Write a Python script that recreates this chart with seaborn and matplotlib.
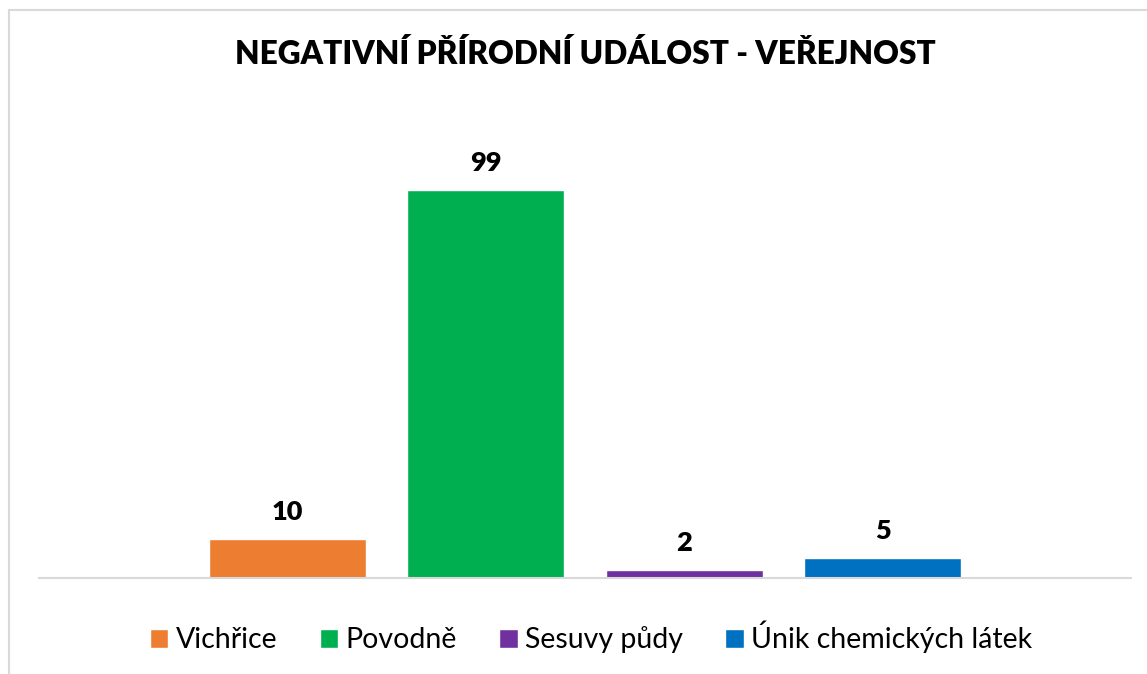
import matplotlib
matplotlib.use("Agg")
import matplotlib.pyplot as plt
import seaborn as sns
import pandas as pd
from matplotlib.patches import Rectangle

categories = ["Vichřice", "Povodně", "Sesuvy půdy", "Únik chemických látek"]
values = [10, 99, 2, 5]
colors = ["#ED7D31", "#00B050", "#7030A0", "#0070C0"]
title = "NEGATIVNÍ PŘÍRODNÍ UDÁLOST - VEŘEJNOST"

sns.set_theme(style="white")
plt.rcParams["font.family"] = ["Lato", "DejaVu Sans"]

df = pd.DataFrame({"group": [""] * len(categories), "series": categories, "value": values})

fig = plt.figure(figsize=(11.47, 6.74), dpi=100)
ax = fig.add_axes([39 / 1147, 1 - 578 / 674, (1131 - 39) / 1147, (578 - 108) / 674])

sns.barplot(data=df, x="group", y="value", hue="series", hue_order=categories,
            palette=colors, width=0.727, gap=0.21, ax=ax, legend=True, saturation=1)

ax.set_ylim(0, 120)
ax.set_xlim(-0.5, 0.5)
ax.set_xlabel("")
ax.set_ylabel("")
ax.set_xticks([])
ax.set_yticks([])
for s in ["top", "left", "right"]:
    ax.spines[s].set_visible(False)
ax.spines["bottom"].set_color("#D9D9D9")
ax.spines["bottom"].set_linewidth(1.5)

for c in ax.containers:
    ax.bar_label(c, padding=11, fontsize=19.5, fontweight="heavy", color="#000000")

handles, labels = ax.get_legend_handles_labels()
ax.legend_.remove()
fig.legend(handles, labels, loc="center", bbox_to_anchor=(591 / 1147, 1 - 637 / 674),
           ncol=4, frameon=False, fontsize=20.5, handlelength=0.64, handleheight=0.64,
           handletextpad=0.25, columnspacing=1.5, labelcolor="#000000")

fig.text(585 / 1147, 1 - 54 / 674, title, ha="center", va="center",
         fontsize=22.8, fontweight="heavy", color="#000000")

fig.patches.append(Rectangle((9 / 1147, -0.05), 1.1, 1 - 10 / 674 + 0.05,
                             transform=fig.transFigure, fill=False,
                             edgecolor="#D9D9D9", linewidth=1.5))

fig.savefig("out.png", dpi=100)
